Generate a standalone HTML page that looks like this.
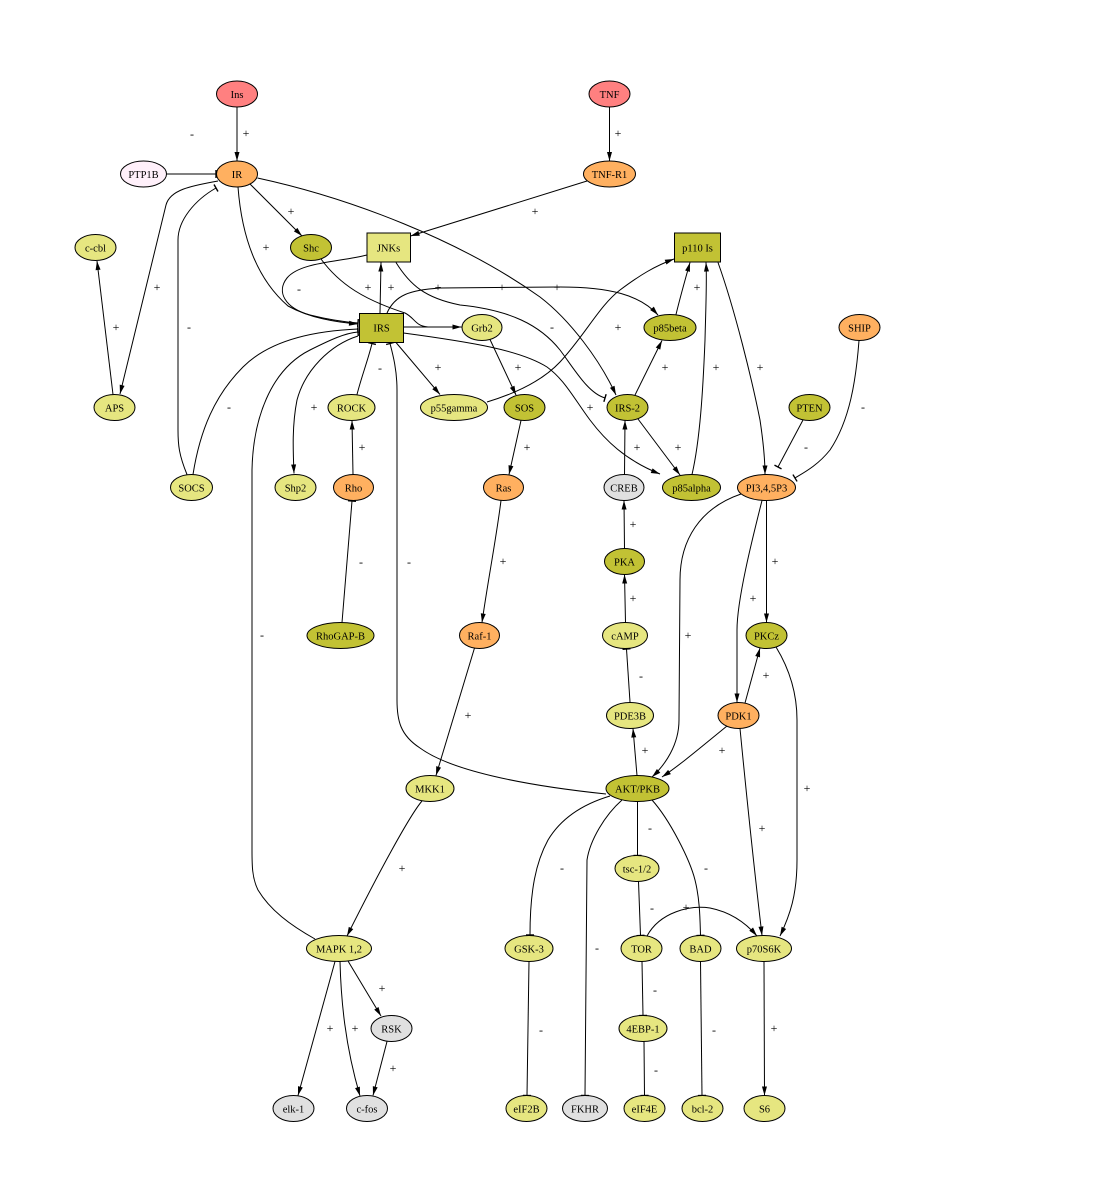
<!DOCTYPE html>
<html><head><meta charset="utf-8"><style>
html,body{margin:0;padding:0;background:#fff;}
svg{display:block;}
.n{stroke:#000;stroke-width:1;}
.e{fill:none;stroke:#000;stroke-width:1;}
.t{font-family:"Liberation Serif",serif;font-size:10.5px;text-anchor:middle;fill:#000;}
.l{font-family:"Liberation Serif",serif;font-size:12px;text-anchor:middle;fill:#000;}
</style></head><body>
<svg width="1106" height="1202" viewBox="0 0 1106 1202" xmlns="http://www.w3.org/2000/svg">
<defs>
<marker id="a" markerWidth="10" markerHeight="8" refX="9" refY="4" orient="auto" markerUnits="userSpaceOnUse" overflow="visible"><path d="M0,1.5 L9,4 L0,6.5z" fill="#000"/></marker>
<marker id="t" markerWidth="6" markerHeight="12" refX="2" refY="6" orient="auto" markerUnits="userSpaceOnUse" overflow="visible"><path d="M2,2 V10" stroke="#000" stroke-width="1.4" fill="none"/></marker>
</defs>
<rect width="1106" height="1202" fill="#fff"/>

<!-- edges -->
<g class="e">
<path d="M237,107 L237,161" marker-end="url(#a)"/>
<path d="M166.5,174 L216,174" marker-end="url(#t)"/>
<path d="M218,181 C190,186 170,190 166,205 L120,394" marker-end="url(#a)"/>
<path d="M187,474.5 C179,455 178,445 178,430 L178,240 C178,220 195,200 216,188" marker-end="url(#t)"/>
<path d="M113,394.5 L97,261" marker-end="url(#a)"/>
<path d="M250,184 L302,236" marker-end="url(#a)"/>
<path d="M238,187 C242,240 258,280 288,306 C310,318 335,322 358,324" marker-end="url(#a)"/>
<path d="M257.5,178 C350,198 460,240 540,297 C570,320 600,360 616,395" marker-end="url(#a)"/>
<path d="M609.5,107 L609.5,161" marker-end="url(#a)"/>
<path d="M587,181 L410.5,236" marker-end="url(#a)"/>
<path d="M367,255 C340,262 300,262 287,278 C276,292 285,308 310,315 C330,320 345,322 358,323" marker-end="url(#t)"/>
<path d="M321,259 C340,285 365,300 405,313 C415,318 415,326 428,327"/>
<path d="M403.5,327 L461.5,327" marker-end="url(#a)"/>
<path d="M380,313 L381,262.5" marker-end="url(#a)"/>
<path d="M387,313 C395,295 410,290 440,288 L560,287 C610,287 640,295 658,315" marker-end="url(#a)"/>
<path d="M396,262.5 C410,285 425,298 460,305 C510,310 540,325 560,350 C575,370 588,393 605,398" marker-end="url(#t)"/>
<path d="M396,342.5 L440,394.5" marker-end="url(#a)"/>
<path d="M403.5,333 C470,342 520,350 547,367 C565,380 575,400 590,420 C605,440 625,460 660,474" marker-end="url(#a)"/>
<path d="M487,402 C520,392 545,378 560,362 C585,335 600,305 620,290 C640,275 655,266 674,259" marker-end="url(#a)"/>
<path d="M490,339.5 L516,395" marker-end="url(#a)"/>
<path d="M521,420.5 L509,474.5" marker-end="url(#a)"/>
<path d="M501,500.5 C496,540 488,580 482,622.5" marker-end="url(#a)"/>
<path d="M474.5,648 L436,775.5" marker-end="url(#a)"/>
<path d="M422,801 C410,815 380,870 347,936" marker-end="url(#a)"/>
<path d="M315,939 C290,925 270,910 258,890 C252,878 252,865 252,850 L252,470 C253,420 270,370 310,350 C330,340 345,333 358,332" marker-end="url(#t)"/>
<path d="M193,474.5 C200,430 215,395 243,367 C268,342 310,331 358,329" marker-end="url(#t)"/>
<path d="M358,336 C330,345 305,370 297,400 C292,425 293,450 294,473.5" marker-end="url(#a)"/>
<path d="M357,394.5 C362,375 368,360 372,343.5" marker-end="url(#t)"/>
<path d="M606,794 C520,785 450,770 420,748 C400,735 397,720 397,700 L397,390 C397,370 393,355 390,343.5" marker-end="url(#t)"/>
<path d="M353,474.5 L352,420.5" marker-end="url(#a)"/>
<path d="M342,622.5 L352,501" marker-end="url(#t)"/>
<path d="M676,314.5 C680,298 685,280 690,262.5" marker-end="url(#a)"/>
<path d="M635,395 L662,340.5" marker-end="url(#a)"/>
<path d="M638,419 L680,475" marker-end="url(#a)"/>
<path d="M692,474.5 C700,440 703,390 705,340 C706,300 707,280 706,262.5" marker-end="url(#a)"/>
<path d="M718,262.5 C735,310 752,380 760,420 C763,440 765,460 765,474.5" marker-end="url(#a)"/>
<path d="M803,420 L778,467" marker-end="url(#t)"/>
<path d="M859,340.5 C856,380 850,420 830,450 C818,465 805,472 795,478" marker-end="url(#t)"/>
<path d="M624.5,474.5 L625,420.5" marker-end="url(#a)"/>
<path d="M624.5,548.5 L624,500.5" marker-end="url(#a)"/>
<path d="M625.5,622.5 L624.5,574.5" marker-end="url(#a)"/>
<path d="M630,702 L626.5,649" marker-end="url(#t)"/>
<path d="M637,775.5 L633,728.5" marker-end="url(#a)"/>
<path d="M741,494 C700,508 680,540 680,580 L679,720 C679,745 665,765 652,777" marker-end="url(#a)"/>
<path d="M762,500.5 C752,540 737,600 737,630 L737,702.5" marker-end="url(#a)"/>
<path d="M766.5,500.5 L766.5,622.5" marker-end="url(#a)"/>
<path d="M745,703 L760,648" marker-end="url(#a)"/>
<path d="M727,726 C700,748 680,765 662,777" marker-end="url(#a)"/>
<path d="M776,647 C787,665 797,690 797,720 L797,860 C797,895 790,915 780,936" marker-end="url(#a)"/>
<path d="M740,728.5 C745,780 752,850 762,935.5" marker-end="url(#a)"/>
<path d="M637.5,801.5 L637.5,855.5" marker-end="url(#t)"/>
<path d="M610,796 C580,805 560,820 548,840 C536,862 530,890 530,935" marker-end="url(#t)"/>
<path d="M622,800 C605,815 590,840 587,860 L585,1095.5" marker-end="url(#t)"/>
<path d="M652,800 C670,820 690,860 695,880 C700,900 700,920 700.5,935.5" marker-end="url(#t)"/>
<path d="M638.5,881.5 L640.5,935.5" marker-end="url(#t)"/>
<path d="M647,936 C660,912 690,905 710,908 C730,912 745,922 757,936" marker-end="url(#a)"/>
<path d="M642,961.5 L643,1015.5" marker-end="url(#t)"/>
<path d="M644,1041.5 L644.5,1095.5" marker-end="url(#t)"/>
<path d="M529,961.5 L527,1095.5" marker-end="url(#t)"/>
<path d="M700.5,961.5 L702,1095.5" marker-end="url(#t)"/>
<path d="M764,961.5 L764.5,1095.5" marker-end="url(#a)"/>
<path d="M348,961 L381,1016" marker-end="url(#a)"/>
<path d="M335,961.5 L298,1095.5" marker-end="url(#a)"/>
<path d="M340,961.5 C341,1000 345,1045 360,1096" marker-end="url(#a)"/>
<path d="M387,1041.5 L373,1095.5" marker-end="url(#a)"/>
</g>

<!-- edge labels -->
<g class="l">
<text x="192" y="138">-</text><text x="246" y="137">+</text><text x="618" y="137">+</text>
<text x="291" y="215">+</text><text x="535" y="215">+</text>
<text x="266" y="251">+</text>
<text x="157" y="291">+</text><text x="299" y="293">-</text><text x="368" y="291">+</text><text x="391" y="291">+</text><text x="438" y="291">+</text><text x="502" y="291">+</text><text x="557" y="291">+</text><text x="697" y="291">+</text>
<text x="116" y="331">+</text><text x="189" y="331">-</text><text x="552" y="331">-</text><text x="618" y="331">+</text>
<text x="380" y="372">-</text><text x="438" y="371">+</text><text x="518" y="371">+</text><text x="665" y="371">+</text><text x="716" y="371">+</text><text x="760" y="371">+</text>
<text x="314" y="411">+</text><text x="229" y="411">-</text><text x="590" y="411">+</text><text x="863" y="411">-</text>
<text x="362" y="451">+</text><text x="527" y="451">+</text><text x="637" y="451">+</text><text x="678" y="451">+</text><text x="806" y="451">-</text>
<text x="633" y="528">+</text>
<text x="361" y="566">-</text><text x="409" y="566">-</text><text x="503" y="565">+</text><text x="775" y="565">+</text>
<text x="633" y="602">+</text><text x="753" y="602">+</text>
<text x="262" y="639">-</text><text x="688" y="639">+</text>
<text x="641" y="680">-</text><text x="766" y="679">+</text>
<text x="468" y="719">+</text>
<text x="645" y="754">+</text><text x="722" y="754">+</text>
<text x="807" y="792">+</text>
<text x="762" y="832">+</text><text x="650" y="832">-</text>
<text x="402" y="872">+</text><text x="562" y="872">-</text><text x="706" y="872">-</text>
<text x="652" y="912">-</text><text x="686" y="911">+</text>
<text x="597" y="952">-</text>
<text x="382" y="992">+</text><text x="655" y="994">-</text>
<text x="330" y="1032">+</text><text x="355" y="1032">+</text><text x="541" y="1034">-</text><text x="714" y="1034">-</text><text x="774" y="1032">+</text>
<text x="393" y="1072">+</text><text x="656" y="1074">-</text>
</g>

<!-- nodes -->
<g class="n">
<ellipse cx="237" cy="94" rx="20.5" ry="13" fill="#ff8080"/>
<ellipse cx="609.5" cy="94" rx="20.5" ry="13" fill="#ff8080"/>
<ellipse cx="143.5" cy="174" rx="23" ry="13" fill="#fff0fa"/>
<ellipse cx="237" cy="174" rx="20.5" ry="13" fill="#ffb060"/>
<ellipse cx="609.5" cy="174" rx="26" ry="13" fill="#ffb060"/>
<ellipse cx="95.5" cy="247.5" rx="20.5" ry="13" fill="#e6e680"/>
<ellipse cx="311" cy="247.5" rx="20.5" ry="13" fill="#c2c234"/>
<rect x="367" y="233" width="43.5" height="29" fill="#e6e680"/>
<rect x="674.5" y="233" width="46" height="29" fill="#c2c234"/>
<rect x="359.5" y="313.5" width="44" height="29" fill="#c2c234"/>
<ellipse cx="482" cy="327.5" rx="20" ry="13" fill="#e6e680"/>
<ellipse cx="670" cy="327.5" rx="26" ry="13" fill="#c2c234"/>
<ellipse cx="859.5" cy="327.5" rx="20.5" ry="13" fill="#ffb060"/>
<ellipse cx="114.5" cy="407.5" rx="20.5" ry="13" fill="#e6e680"/>
<ellipse cx="351.5" cy="407.5" rx="23.5" ry="13" fill="#e6e680"/>
<ellipse cx="454" cy="407.5" rx="33.5" ry="13" fill="#e6e680"/>
<ellipse cx="524.5" cy="407.5" rx="20.5" ry="13" fill="#c2c234"/>
<ellipse cx="627.5" cy="407.5" rx="20.5" ry="13" fill="#c2c234"/>
<ellipse cx="809.5" cy="407.5" rx="20.5" ry="13" fill="#c2c234"/>
<ellipse cx="191.5" cy="487.5" rx="21" ry="13" fill="#e6e680"/>
<ellipse cx="295.5" cy="487.5" rx="20.5" ry="13" fill="#e6e680"/>
<ellipse cx="353.5" cy="487.5" rx="20" ry="13" fill="#ffb060"/>
<ellipse cx="503.5" cy="487.5" rx="20" ry="13" fill="#ffb060"/>
<ellipse cx="624" cy="487.5" rx="20" ry="13" fill="#e0e0e0"/>
<ellipse cx="691.5" cy="487.5" rx="29" ry="13" fill="#c2c234"/>
<ellipse cx="766.5" cy="487.5" rx="29" ry="13" fill="#ffb060"/>
<ellipse cx="624.5" cy="561.5" rx="20" ry="13" fill="#c2c234"/>
<ellipse cx="340.5" cy="635.5" rx="33.5" ry="13" fill="#c2c234"/>
<ellipse cx="479.5" cy="635.5" rx="20" ry="13" fill="#ffb060"/>
<ellipse cx="625" cy="635.5" rx="22.5" ry="13" fill="#e6e680"/>
<ellipse cx="766.5" cy="635.5" rx="20.5" ry="13" fill="#c2c234"/>
<ellipse cx="630" cy="715.5" rx="23.5" ry="13" fill="#e6e680"/>
<ellipse cx="738.5" cy="715.5" rx="20.5" ry="13" fill="#ffb060"/>
<ellipse cx="430" cy="788.5" rx="24" ry="13" fill="#e6e680"/>
<ellipse cx="637.5" cy="788.5" rx="31.5" ry="13" fill="#c2c234"/>
<ellipse cx="637" cy="868.5" rx="22" ry="13" fill="#e6e680"/>
<ellipse cx="339" cy="948.5" rx="32.5" ry="13" fill="#e6e680"/>
<ellipse cx="529" cy="948.5" rx="24" ry="13" fill="#e6e680"/>
<ellipse cx="641.5" cy="948.5" rx="20.5" ry="13" fill="#e6e680"/>
<ellipse cx="700.5" cy="948.5" rx="20.5" ry="13" fill="#e6e680"/>
<ellipse cx="764" cy="948.5" rx="27.5" ry="13" fill="#e6e680"/>
<ellipse cx="391.5" cy="1028.5" rx="20.5" ry="13" fill="#e0e0e0"/>
<ellipse cx="643" cy="1028.5" rx="24" ry="13" fill="#e6e680"/>
<ellipse cx="293.5" cy="1108.5" rx="20.5" ry="13" fill="#e0e0e0"/>
<ellipse cx="367" cy="1108.5" rx="20.5" ry="13" fill="#e0e0e0"/>
<ellipse cx="526.5" cy="1108.5" rx="20.5" ry="13" fill="#e6e680"/>
<ellipse cx="585" cy="1108.5" rx="22.5" ry="13" fill="#e0e0e0"/>
<ellipse cx="644.5" cy="1108.5" rx="20.5" ry="13" fill="#e6e680"/>
<ellipse cx="702.5" cy="1108.5" rx="20.5" ry="13" fill="#e6e680"/>
<ellipse cx="764.5" cy="1108.5" rx="20.5" ry="13" fill="#e6e680"/>
</g>

<!-- node labels -->
<g class="t">
<text x="237" y="98">Ins</text>
<text x="609.5" y="98">TNF</text>
<text x="143.5" y="178">PTP1B</text>
<text x="237" y="178">IR</text>
<text x="609.5" y="178">TNF-R1</text>
<text x="95.5" y="251.5">c-cbl</text>
<text x="311" y="251.5">Shc</text>
<text x="388.5" y="251.5">JNKs</text>
<text x="697.5" y="251.5">p110 Is</text>
<text x="381.5" y="331.5">IRS</text>
<text x="482" y="331.5">Grb2</text>
<text x="670" y="331.5">p85beta</text>
<text x="859.5" y="331.5">SHIP</text>
<text x="114.5" y="411.5">APS</text>
<text x="351.5" y="411.5">ROCK</text>
<text x="454" y="411.5">p55gamma</text>
<text x="524.5" y="411.5">SOS</text>
<text x="627.5" y="411.5">IRS-2</text>
<text x="809.5" y="411.5">PTEN</text>
<text x="191.5" y="491.5">SOCS</text>
<text x="295.5" y="491.5">Shp2</text>
<text x="353.5" y="491.5">Rho</text>
<text x="503.5" y="491.5">Ras</text>
<text x="624" y="491.5">CREB</text>
<text x="691.5" y="491.5">p85alpha</text>
<text x="766.5" y="491.5">PI3,4,5P3</text>
<text x="624.5" y="565.5">PKA</text>
<text x="340.5" y="639.5">RhoGAP-B</text>
<text x="479.5" y="639.5">Raf-1</text>
<text x="625" y="639.5">cAMP</text>
<text x="766.5" y="639.5">PKCz</text>
<text x="630" y="719.5">PDE3B</text>
<text x="738.5" y="719.5">PDK1</text>
<text x="430" y="792.5">MKK1</text>
<text x="637.5" y="792.5">AKT/PKB</text>
<text x="637" y="872.5">tsc-1/2</text>
<text x="339" y="952.5">MAPK 1,2</text>
<text x="529" y="952.5">GSK-3</text>
<text x="641.5" y="952.5">TOR</text>
<text x="700.5" y="952.5">BAD</text>
<text x="764" y="952.5">p70S6K</text>
<text x="391.5" y="1032.5">RSK</text>
<text x="643" y="1032.5">4EBP-1</text>
<text x="293.5" y="1112.5">elk-1</text>
<text x="367" y="1112.5">c-fos</text>
<text x="526.5" y="1112.5">eIF2B</text>
<text x="585" y="1112.5">FKHR</text>
<text x="644.5" y="1112.5">eIF4E</text>
<text x="702.5" y="1112.5">bcl-2</text>
<text x="764.5" y="1112.5">S6</text>
</g>
</svg>
</body></html>
